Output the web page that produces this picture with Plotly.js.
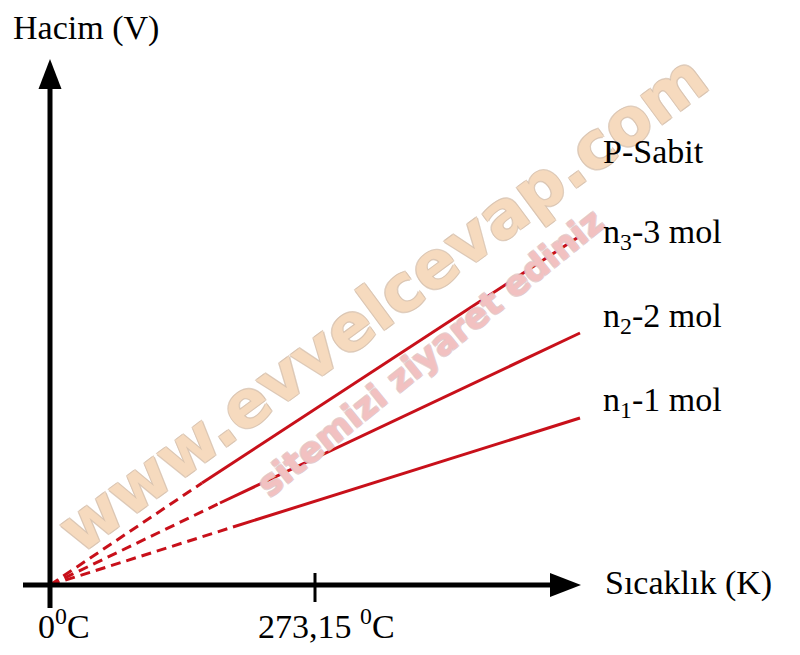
<!DOCTYPE html>
<html>
<head>
<meta charset="utf-8">
<script src="https://cdn.plot.ly/plotly-3.0.1.min.js"></script>
<style>html,body{margin:0;padding:0;background:#fff;}#chart{width:800px;height:655px;}</style>
</head>
<body>
<div id="chart"></div>
<script>
// ---- data (temperature in arbitrary units: origin = 0, tick = 273.15) ----
const seriesNames = ['n3', 'n2', 'n1'];
const seriesLabels = ['n<sub>3</sub>-3 mol', 'n<sub>2</sub>-2 mol', 'n<sub>1</sub>-1 mol'];
// extrapolated (dashed) part: from origin to where the measured part starts
const dashT = [[0, 156.7], [0, 175.2], [0, 188.6]];
const dashV = [[0, 2.04], [0, 1.64], [0, 1.16]];
// measured (solid) part
const solidT = [[156.7, 546.3], [175.2, 546.3], [188.6, 546.3]];
const solidV = [[2.04, 6.98], [1.64, 5.04], [1.16, 3.34]];
const tickValues = [0, 273.15];
const tickLabels = ['0<sup>0</sup>C', '273,15 <sup>0</sup>C'];
const xTitle = 'Sıcaklık (K)';
const yTitle = 'Hacim (V)';
const note = 'P-Sabit';

// ---- layout helpers (pixel -> axis units, for decorations only) ----
const W = 800, H = 655;
const ox = 50, oy = 585, kx = 273.15 / 265, ky = 1 / 50;
const X = px => (px - ox) * kx;
const Y = py => (oy - py) * ky;
const PX = px => px / W;
const PY = py => 1 - py / H;

const red = '#c8101a';
const traces = [];
for (let i = 0; i < seriesNames.length; i++) {
  traces.push({x: dashT[i], y: dashV[i], mode: 'lines', hoverinfo: 'skip',
    line: {color: red, width: 3, dash: '10px,6px'}, showlegend: false});
  traces.push({x: solidT[i], y: solidV[i], mode: 'lines', hoverinfo: 'skip',
    line: {color: red, width: 3}, showlegend: false});
}

const shapes = [
  // y axis line
  {type: 'line', xref: 'x', yref: 'y', x0: X(50), x1: X(50), y0: Y(608), y1: Y(86), line: {color: '#000', width: 5}},
  // x axis line
  {type: 'line', xref: 'x', yref: 'y', x0: X(23), x1: X(553), y0: Y(585), y1: Y(585), line: {color: '#000', width: 5}},
  // tick at 273.15
  {type: 'line', xref: 'x', yref: 'y', x0: tickValues[1], x1: tickValues[1], y0: Y(573), y1: Y(602), line: {color: '#000', width: 3}},
  // arrow heads
  {type: 'path', xref: 'x', yref: 'y', fillcolor: '#000', line: {width: 0},
    path: `M ${X(50)},${Y(59)} L ${X(38.5)},${Y(89)} L ${X(61.5)},${Y(89)} Z`},
  {type: 'path', xref: 'x', yref: 'y', fillcolor: '#000', line: {width: 0},
    path: `M ${X(581)},${Y(585)} L ${X(550)},${Y(573)} L ${X(550)},${Y(597)} Z`}
];

const serif = {family: 'Liberation Serif, Times New Roman, serif', size: 34, color: '#000'};
const ann = (text, px, py, yanchor) => ({text, x: PX(px), y: PY(py), xref: 'paper', yref: 'paper',
  xanchor: 'left', yanchor, showarrow: false, font: serif});

const labelBaselines = [243, 327, 411];
const annotations = [
  // watermark
  {text: 'www.evvelcevap.com', x: PX(382), y: PY(303), xref: 'paper', yref: 'paper', showarrow: false,
    textangle: -36.5, xanchor: 'center', yanchor: 'middle',
    font: {family: 'DejaVu Sans', size: 65, weight: 'bold', color: 'rgba(252,224,194,0.8)',
      shadow: '1px 1px 0 #d8c2ae, -1px -1px 0 #d8c2ae, 1px -1px 0 #d8c2ae, -1px 1px 0 #d8c2ae'}},
  {text: 'sitemizi ziyaret ediniz', x: PX(430), y: PY(353), xref: 'paper', yref: 'paper', showarrow: false,
    textangle: -39, xanchor: 'center', yanchor: 'middle',
    font: {family: 'DejaVu Sans', size: 35, weight: 'bold', color: 'rgba(247,192,192,0.8)',
      shadow: '1px 1px 0 #e2c6c6, -1px -1px 0 #e2c6c6, 1px -1px 0 #e2c6c6, -1px 1px 0 #e2c6c6'}},
  ann(yTitle, 11, 7, 'top'),
  ann(note, 601, 131, 'top'),
  ann(xTitle, 603, 562, 'top'),
  ann(tickLabels[0], 36, 647, 'bottom'),
  ann(tickLabels[1], 256, 647, 'bottom')
];
for (let i = 0; i < seriesLabels.length; i++) annotations.push(ann(seriesLabels[i], 601, labelBaselines[i] - 32, 'top'));

const layout = {
  width: W, height: H,
  margin: {l: 0, r: 0, t: 0, b: 0, pad: 0},
  paper_bgcolor: '#fff', plot_bgcolor: '#fff',
  xaxis: {range: [X(0), X(W)], visible: false, fixedrange: true},
  yaxis: {range: [Y(H), Y(0)], visible: false, fixedrange: true},
  shapes, annotations, showlegend: false
};

Plotly.newPlot('chart', traces, layout, {displayModeBar: false});
</script>
</body>
</html>
